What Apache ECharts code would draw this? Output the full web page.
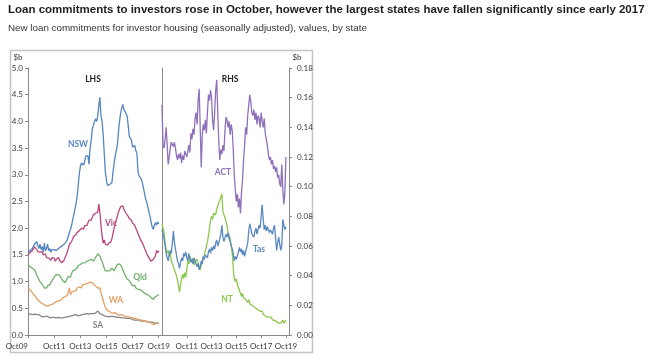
<!DOCTYPE html>
<html>
<head>
<meta charset="utf-8">
<script src="https://cdn.jsdelivr.net/npm/echarts@6/dist/echarts.min.js"></script>
<style>
html,body{margin:0;padding:0;background:#fff;}
#chart{width:660px;height:360px;}
</style>
</head>
<body>
<div id="chart"></div>
<script>
// Monthly categories Oct 2009 .. Jan 2020 (data runs to Oct 2019)
const monthNames = ['Jan','Feb','Mar','Apr','May','Jun','Jul','Aug','Sep','Oct','Nov','Dec'];
const categories = [];
for (let i = 0; i < 124; i++) {
  const mi = (9 + i) % 12;
  const yr = 2009 + Math.floor((9 + i) / 12);
  categories.push(monthNames[mi] + String(yr).slice(2));
}
const lhsTickLabels = ['Oct09','Oct11','Oct13','Oct15','Oct17','Oct19'];
const rhsTickLabels = ['Oct11','Oct13','Oct15','Oct17','Oct19'];

const nsw = [1.55,1.56,1.58,1.60,1.62,1.66,1.70,1.72,1.75,1.68,1.62,1.70,1.60,1.66,1.55,1.72,1.58,1.62,1.70,1.58,1.62,1.55,1.60,1.58,1.60,
1.57,1.58,1.60,1.62,1.63,1.65,1.62,1.68,1.70,1.72,1.75,1.78,1.85,1.92,1.98,2.05,2.15,2.25,2.35,2.45,2.58,2.78,3.00,3.15,3.22,
3.20,3.18,3.25,3.35,3.32,3.36,3.20,3.50,3.65,3.85,3.92,4.00,4.05,4.00,4.10,4.30,4.45,4.10,4.00,3.75,3.40,3.05,2.90,2.80,2.78,
2.82,2.80,2.85,3.05,3.20,3.35,3.45,3.55,3.80,4.00,4.15,4.25,4.32,4.22,4.25,4.15,4.10,3.92,3.72,3.75,3.65,3.52,3.50,3.55,3.45,
3.40,3.05,2.98,2.95,2.92,2.85,2.75,2.65,2.55,2.48,2.40,2.30,2.22,2.12,2.02,1.98,2.05,2.10,2.06,2.12,2.08];
const vic = [1.50,1.48,1.55,1.52,1.58,1.60,1.65,1.62,1.60,1.56,1.58,1.55,1.52,1.56,1.50,1.48,1.52,1.45,1.48,1.44,1.46,1.40,1.45,1.42,1.44,
1.38,1.42,1.40,1.45,1.40,1.38,1.35,1.36,1.40,1.45,1.50,1.55,1.62,1.70,1.68,1.75,1.80,1.85,1.82,1.88,1.92,1.90,1.95,1.98,2.00,
2.02,1.98,2.05,2.08,2.05,2.10,2.15,2.18,2.15,2.20,2.25,2.22,2.28,2.25,2.30,2.45,2.30,2.05,1.85,1.72,1.78,1.70,1.72,1.68,1.72,
1.70,1.74,1.80,1.90,2.00,2.08,2.15,2.22,2.30,2.35,2.40,2.38,2.42,2.35,2.38,2.28,2.25,2.22,2.18,2.20,2.15,2.10,2.12,2.05,2.00,
1.95,1.92,1.85,1.80,1.78,1.72,1.68,1.62,1.58,1.52,1.50,1.45,1.42,1.38,1.36,1.42,1.40,1.48,1.58,1.54,1.58];
const qld = [1.32,1.30,1.28,1.30,1.25,1.26,1.22,1.18,1.12,1.08,1.05,1.00,0.98,0.95,0.92,0.88,0.86,0.88,0.92,0.95,0.94,0.98,1.02,1.05,1.08,
1.12,1.15,1.13,1.10,1.12,1.08,1.05,1.02,1.00,0.98,1.02,1.05,1.10,1.12,1.08,1.15,1.20,1.18,1.22,1.20,1.25,1.30,1.28,1.32,1.30,
1.35,1.33,1.35,1.32,1.38,1.36,1.40,1.38,1.42,1.40,1.38,1.42,1.45,1.48,1.52,1.55,1.48,1.42,1.38,1.40,1.25,1.20,1.22,1.20,1.23,
1.20,1.22,1.25,1.22,1.20,1.24,1.28,1.32,1.35,1.33,1.30,1.28,1.22,1.18,1.12,1.10,1.05,1.08,1.02,0.98,0.96,0.92,0.90,0.93,0.88,
0.90,0.86,0.88,0.85,0.86,0.82,0.80,0.78,0.80,0.76,0.75,0.74,0.72,0.70,0.68,0.67,0.70,0.72,0.75,0.74,0.76];
const wa = [0.90,0.86,0.84,0.82,0.80,0.76,0.74,0.72,0.68,0.66,0.64,0.62,0.60,0.62,0.58,0.57,0.55,0.56,0.54,0.55,0.56,0.55,0.57,0.58,0.60,
0.61,0.63,0.62,0.64,0.66,0.65,0.68,0.70,0.69,0.72,0.70,0.74,0.72,0.88,0.75,0.80,0.78,0.82,0.85,0.83,0.88,0.86,0.90,0.92,0.88,
0.94,0.92,0.95,0.93,0.96,0.94,0.98,0.96,0.99,1.00,0.96,0.98,0.92,0.95,0.88,0.85,0.88,0.80,0.72,0.65,0.58,0.52,0.48,0.46,0.45,
0.44,0.42,0.44,0.41,0.40,0.42,0.39,0.38,0.40,0.37,0.36,0.38,0.35,0.36,0.34,0.35,0.33,0.34,0.32,0.33,0.31,0.32,0.30,0.31,0.29,
0.30,0.28,0.29,0.27,0.28,0.26,0.27,0.25,0.26,0.24,0.25,0.23,0.24,0.22,0.21,0.22,0.20,0.21,0.22,0.21,0.22];
const sa = [0.40,0.41,0.39,0.40,0.38,0.40,0.39,0.37,0.38,0.36,0.38,0.37,0.35,0.37,0.34,0.36,0.35,0.33,0.35,0.34,0.32,0.34,0.33,0.32,0.33,
0.31,0.32,0.31,0.33,0.31,0.32,0.30,0.32,0.31,0.33,0.32,0.34,0.33,0.35,0.34,0.36,0.35,0.37,0.36,0.38,0.37,0.36,0.38,0.37,0.39,
0.38,0.37,0.39,0.38,0.40,0.38,0.39,0.41,0.40,0.42,0.40,0.43,0.41,0.44,0.45,0.42,0.40,0.41,0.38,0.39,0.36,0.37,0.35,0.36,0.34,
0.36,0.35,0.37,0.35,0.36,0.34,0.35,0.33,0.34,0.33,0.34,0.32,0.33,0.32,0.33,0.31,0.32,0.31,0.30,0.31,0.30,0.29,0.30,0.28,0.29,
0.28,0.27,0.28,0.27,0.26,0.27,0.26,0.25,0.26,0.25,0.24,0.25,0.24,0.23,0.24,0.23,0.22,0.23,0.22,0.23,0.22];
const act = [0.155,0.128,0.126,0.132,0.140,0.128,0.115,0.120,0.126,0.130,0.129,0.127,0.130,0.126,0.121,0.118,0.122,0.119,0.123,0.116,0.121,0.118,0.124,0.122,0.120,
0.124,0.128,0.123,0.136,0.132,0.139,0.135,0.146,0.150,0.142,0.158,0.166,0.140,0.113,0.135,0.142,0.138,0.145,0.136,0.150,0.162,0.158,0.165,0.160,0.145,
0.138,0.150,0.165,0.172,0.150,0.130,0.118,0.125,0.122,0.128,0.124,0.138,0.147,0.145,0.140,0.144,0.135,0.142,0.138,0.125,0.108,0.098,0.090,0.095,0.086,
0.092,0.082,0.096,0.105,0.118,0.128,0.140,0.135,0.148,0.155,0.162,0.157,0.150,0.148,0.152,0.145,0.150,0.142,0.148,0.146,0.140,0.150,0.144,0.140,0.146,
0.136,0.132,0.128,0.122,0.118,0.120,0.115,0.118,0.112,0.114,0.110,0.113,0.106,0.108,0.102,0.100,0.115,0.098,0.088,0.096,0.120];
const tas = [0.071,0.068,0.065,0.060,0.055,0.052,0.050,0.054,0.057,0.055,0.062,0.070,0.063,0.058,0.054,0.050,0.048,0.045,0.049,0.052,0.050,0.055,0.053,0.056,0.052,
0.050,0.055,0.052,0.049,0.051,0.048,0.052,0.050,0.049,0.046,0.048,0.044,0.046,0.050,0.048,0.053,0.051,0.054,0.055,0.052,0.056,0.058,0.055,0.059,0.057,
0.060,0.058,0.062,0.064,0.060,0.062,0.061,0.068,0.074,0.066,0.063,0.064,0.068,0.066,0.069,0.065,0.063,0.062,0.058,0.055,0.050,0.053,0.051,0.052,0.056,
0.059,0.056,0.058,0.054,0.057,0.053,0.056,0.055,0.062,0.070,0.075,0.072,0.068,0.069,0.066,0.070,0.072,0.068,0.071,0.074,0.072,0.080,0.088,0.078,0.071,
0.074,0.070,0.073,0.072,0.069,0.071,0.070,0.068,0.072,0.074,0.065,0.057,0.062,0.066,0.065,0.057,0.060,0.078,0.074,0.071,0.073];
const nt = [0.075,0.072,0.069,0.062,0.058,0.055,0.057,0.053,0.055,0.050,0.049,0.046,0.044,0.043,0.040,0.037,0.033,0.029,0.034,0.038,0.041,0.038,0.042,0.039,0.044,
0.050,0.048,0.053,0.051,0.049,0.052,0.047,0.050,0.049,0.051,0.050,0.046,0.044,0.047,0.050,0.049,0.054,0.057,0.060,0.063,0.067,0.072,0.077,0.080,0.078,
0.082,0.083,0.081,0.085,0.086,0.089,0.090,0.093,0.095,0.083,0.082,0.079,0.080,0.074,0.069,0.068,0.065,0.060,0.055,0.045,0.038,0.036,0.038,0.034,0.033,
0.030,0.028,0.026,0.028,0.025,0.026,0.024,0.025,0.022,0.024,0.021,0.022,0.020,0.021,0.019,0.020,0.018,0.019,0.017,0.018,0.016,0.015,0.016,0.014,0.015,
0.013,0.014,0.012,0.013,0.012,0.011,0.012,0.010,0.011,0.010,0.011,0.009,0.010,0.008,0.009,0.008,0.009,0.010,0.008,0.009,0.010];

const colors = {
  NSW:'#5585C2', Vic:'#B8477F', Qld:'#72B26E', WA:'#E3A067', SA:'#848484',
  ACT:'#8E70BA', Tas:'#5A88C2', NT:'#8DC74E'
};

const FONT = 'Lato, "Liberation Sans", Arial, sans-serif';
const axisColor = '#8a8a8a';
const labelColor = '#3a3a3a';

function xAxisCfg(gridIndex, tickList, alignMin) {
  const pick = (idx) => tickList.indexOf(categories[idx]) >= 0;
  const label = {interval:pick, margin:7, fontSize:8, color:labelColor, fontFamily:FONT};
  if (alignMin) label.alignMinLabel = alignMin;
  return {
    type:'category', gridIndex, data:categories, boundaryGap:false,
    axisLine:{show:true, lineStyle:{color:axisColor, width:1}},
    axisTick:{show:true, interval:pick, length:3, lineStyle:{color:axisColor}},
    axisLabel:label,
    splitLine:{show:false}
  };
}

function line(name, data, xi, yi) {
  return {
    name, type:'line', data, xAxisIndex:xi, yAxisIndex:yi, symbol:'none',
    lineStyle:{color:colors[name], width:1.3}, itemStyle:{color:colors[name]},
    silent:true
  };
}

function txt(text, x, y, color, bold, size) {
  return {
    type:'text', x, y,
    style:{text, fill:color, font:(bold?'bold ':'') + (size||8.5) + 'px ' + FONT, textAlign:'center', textVerticalAlign:'middle'}
  };
}

const chart = echarts.init(document.getElementById('chart'), null, {renderer:'canvas'});
chart.setOption({
  animation:false,
  backgroundColor:'#fff',
  title:{
    text:'Loan commitments to investors rose in October, however the largest states have fallen significantly since early 2017',
    subtext:'New loan commitments for investor housing (seasonally adjusted), values, by state',
    left:8, top:4, padding:0, itemGap:7,
    textStyle:{fontSize:11.5, fontWeight:'bold', color:'#1e1e1e', fontFamily:'"Liberation Sans", Arial, sans-serif'},
    subtextStyle:{fontSize:9.8, color:'#333', fontFamily:'"Liberation Sans", Arial, sans-serif'}
  },
  grid:[
    {left:28, right:498, top:68, bottom:25},
    {left:162, right:371, top:68, bottom:25}
  ],
  xAxis:[xAxisCfg(0, lhsTickLabels, 'right'), xAxisCfg(1, rhsTickLabels)],
  yAxis:[
    {type:'value', gridIndex:0, min:0, max:5, interval:0.5, position:'left',
     axisLine:{show:true, lineStyle:{color:axisColor}},
     axisTick:{show:true, length:3, lineStyle:{color:axisColor}},
     axisLabel:{margin:5, fontSize:8, color:labelColor, fontFamily:FONT, formatter:v=>v.toFixed(1)},
     splitLine:{show:false}},
    {type:'value', gridIndex:1, min:0, max:0.18, interval:0.02, position:'right',
     axisLine:{show:true, lineStyle:{color:axisColor}},
     axisTick:{show:true, length:3, lineStyle:{color:axisColor}},
     axisLabel:{margin:8, fontSize:8, color:labelColor, fontFamily:FONT, formatter:v=>v.toFixed(2)},
     splitLine:{show:false}},
    {type:'value', gridIndex:1, min:0, max:0.18, interval:0.02, position:'left',
     axisLine:{show:true, lineStyle:{color:axisColor}},
     axisTick:{show:false}, axisLabel:{show:false}, splitLine:{show:false}}
  ],
  series:[
    line('SA', sa, 0, 0),
    line('WA', wa, 0, 0),
    line('Qld', qld, 0, 0),
    line('Vic', vic, 0, 0),
    line('NSW', nsw, 0, 0),
    line('NT', nt, 1, 1),
    line('Tas', tas, 1, 1),
    line('ACT', act, 1, 1)
  ],
  graphic:[
    {type:'rect', shape:{x:10.5, y:50.5, width:302, height:302}, style:{fill:null, stroke:'#c4c4c4', lineWidth:1.5}, silent:true},
    txt('$b', 18, 57, labelColor, false, 8),
    txt('$b', 297, 57, labelColor, false, 8),
    txt('LHS', 93, 79, '#222', true, 8.5),
    txt('RHS', 230, 79, '#222', true, 8.5),
    txt('NSW', 78, 144, colors.NSW, true),
    txt('Vic', 111, 223, colors.Vic, true),
    txt('Qld', 140, 277, colors.Qld, true),
    txt('WA', 116, 300, colors.WA, true),
    txt('SA', 98, 325, colors.SA, true),
    txt('ACT', 223, 172, colors.ACT, true),
    txt('Tas', 259, 249, colors.Tas, true),
    txt('NT', 227, 299, colors.NT, true)
  ]
});
</script>
</body>
</html>
